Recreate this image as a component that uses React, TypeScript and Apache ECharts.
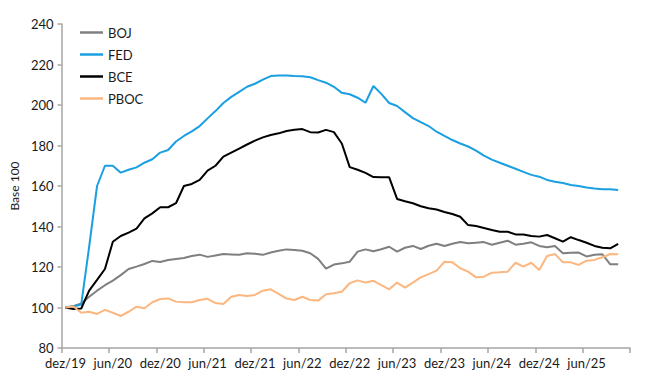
import React, { useEffect, useRef } from "react";
import * as echarts from "echarts";

const months: string[] = [
  "dez/19",
  "jan/20", "fev/20", "mar/20", "abr/20", "mai/20", "jun/20", "jul/20", "ago/20", "set/20", "out/20", "nov/20", "dez/20",
  "jan/21", "fev/21", "mar/21", "abr/21", "mai/21", "jun/21", "jul/21", "ago/21", "set/21", "out/21", "nov/21", "dez/21",
  "jan/22", "fev/22", "mar/22", "abr/22", "mai/22", "jun/22", "jul/22", "ago/22", "set/22", "out/22", "nov/22", "dez/22",
  "jan/23", "fev/23", "mar/23", "abr/23", "mai/23", "jun/23", "jul/23", "ago/23", "set/23", "out/23", "nov/23", "dez/23",
  "jan/24", "fev/24", "mar/24", "abr/24", "mai/24", "jun/24", "jul/24", "ago/24", "set/24", "out/24", "nov/24", "dez/24",
  "jan/25", "fev/25", "mar/25", "abr/25", "mai/25", "jun/25", "jul/25", "ago/25", "set/25", "out/25", "nov/25",
];

const boj: number[] = [
  100, 100.7, 102, 105.3, 108.3, 111, 113.3, 116, 119, 120.2, 121.5, 123, 122.5,
  123.5, 124, 124.4, 125.4, 126.1, 125, 125.7, 126.4, 126.2, 126, 126.8, 126.5,
  126, 127.2, 128, 128.7, 128.4, 128, 126.8, 124, 119.2, 121.2, 121.8, 122.6,
  127.6, 128.7, 127.8, 128.8, 130, 127.6, 129.5, 130.4, 128.9, 130.5, 131.5, 130.4,
  131.5, 132.3, 131.7, 132, 132.3, 131, 132, 133, 131, 131.5, 132.2, 130.4,
  129.7, 130.4, 126.8, 127, 127.1, 125.2, 126, 126.3, 121.3, 121.3,
];

const fed: number[] = [
  100, 100.5, 101.5, 130, 160, 170, 170, 166.6, 168, 169.2, 171.5, 173.2, 176.5,
  177.8, 182, 184.7, 187, 189.6, 193.4, 197, 201, 204, 206.5, 209, 210.5,
  212.5, 214.3, 214.6, 214.6, 214.3, 214.2, 213.7, 212.3, 211, 209, 206, 205.3,
  203.6, 201.1, 209.4, 205.5, 201, 199.5, 196.5, 193.5, 191.5, 189.6, 186.8, 184.7,
  182.7, 181, 179.5, 177.5, 175, 173, 171.5, 170, 168.5, 167, 165.5, 164.6,
  163, 162.1, 161.5, 160.5, 160, 159.3, 158.8, 158.4, 158.4, 158,
];

const bce: number[] = [
  100, 99.3, 99.5, 108.3, 113.6, 119, 132.5, 135.3, 137, 139, 144, 146.5, 149.5,
  149.5, 151.5, 160, 161, 163, 167.6, 170, 174.5, 176.5, 178.5, 180.5, 182.4,
  184, 185.2, 186, 187.2, 187.8, 188.1, 186.6, 186.4, 187.7, 186.6, 181, 169.3,
  168, 166.5, 164.4, 164.3, 164.3, 153.6, 152.5, 151.5, 150, 149, 148.4, 147.2,
  146.2, 144.8, 140.7, 140.2, 139.3, 138.3, 137.4, 137.4, 136.1, 136, 135.3, 135,
  135.8, 134.2, 132.5, 134.7, 133.3, 132, 130.4, 129.5, 129.2, 131.4,
];

const pboc: number[] = [
  100, 100.5, 97.4, 97.9, 96.8, 98.8, 97.4, 95.8, 97.9, 100.4, 99.6, 102.6, 104.2,
  104.5, 102.9, 102.6, 102.6, 103.7, 104.3, 102.2, 101.7, 105.3, 106.2, 105.7, 106.2,
  108.3, 109, 106.7, 104.4, 103.7, 105.3, 103.7, 103.4, 106.5, 107, 107.8, 112,
  113.4, 112.3, 113.2, 111, 109, 112.3, 109.8, 112.3, 114.9, 116.5, 118.2, 122.6,
  122.3, 119.4, 117.7, 114.9, 115.2, 117.2, 117.4, 117.7, 122.1, 120.2, 122.1, 118.5,
  125.4, 126.4, 122.3, 122.3, 121, 123.1, 123.5, 124.8, 126.4, 126.3,
];

const seriesNames = ["BOJ", "FED", "BCE", "PBOC"];
const seriesColors = ["#7f7f7f", "#1a9fe0", "#000000", "#fbb77f"];

const FONT = "Lato, 'Open Sans', sans-serif";

export default function App() {
  const ref = useRef<HTMLDivElement>(null);

  useEffect(() => {
    if (!ref.current) return;
    const chart = echarts.init(ref.current, null, { renderer: "svg" });
    const dataSets = [boj, fed, bce, pboc];
    chart.setOption({
      animation: false,
      backgroundColor: "#ffffff",
      textStyle: { fontFamily: FONT },
      grid: { left: 61, right: 20, top: 24, bottom: 30, containLabel: false },
      legend: {
        orient: "vertical",
        left: 75,
        top: 21,
        icon: "rect",
        itemWidth: 23,
        itemHeight: 2.5,
        itemGap: 9,
        textStyle: { fontFamily: FONT, fontSize: 13, color: "#1a1a1a" },
        data: seriesNames,
      },
      xAxis: {
        type: "category",
        data: months,
        boundaryGap: true,
        axisLine: { show: true, lineStyle: { color: "#a6a6a6", width: 1.5 } },
        axisTick: { show: true, interval: 5, length: 5, lineStyle: { color: "#a6a6a6", width: 1.5 } },
        axisLabel: { interval: 5, fontFamily: FONT, fontSize: 13, color: "#1a1a1a", margin: 8 },
        splitLine: { show: false },
      },
      yAxis: {
        type: "value",
        min: 80,
        max: 240,
        interval: 20,
        name: "Base 100",
        nameLocation: "middle",
        nameRotate: 90,
        nameGap: 40,
        nameTextStyle: { fontFamily: FONT, fontSize: 12, color: "#1a1a1a" },
        axisLine: { show: true, lineStyle: { color: "#a6a6a6", width: 1.5 } },
        axisTick: { show: true, length: 4, lineStyle: { color: "#a6a6a6", width: 1.5 } },
        axisLabel: { fontFamily: FONT, fontSize: 13, color: "#1a1a1a", margin: 8 },
        splitLine: { show: false },
      },
      series: seriesNames.map((name, k) => ({
        name,
        type: "line",
        data: dataSets[k],
        showSymbol: false,
        symbol: "none",
        color: seriesColors[k],
        lineStyle: { color: seriesColors[k], width: 2 },
      })),
    });
    return () => chart.dispose();
  }, []);

  return (
    <div
      ref={ref}
      style={{ position: "fixed", left: 0, top: 0, width: 650, height: 378, background: "#fff" }}
    />
  );
}
